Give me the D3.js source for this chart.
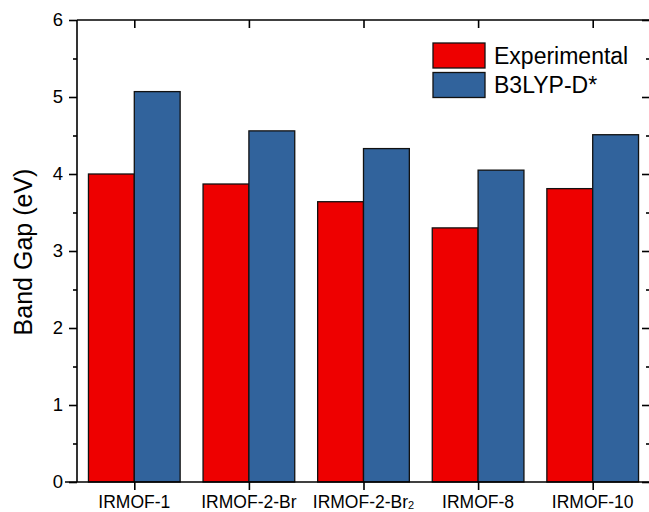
<!DOCTYPE html>
<html>
<head>
<meta charset="utf-8">
<script src="https://cdn.jsdelivr.net/npm/d3@7"></script>
<style>
  html, body { margin: 0; padding: 0; background: #fff; }
  svg { display: block; font-family: "Liberation Sans", Arial, sans-serif; }
</style>
</head>
<body>
<svg id="chart" width="649" height="512"></svg>
<script>
// Band gaps of IRMOF frameworks: experiment vs. B3LYP-D* calculation
const categories = ["IRMOF-1", "IRMOF-2-Br", "IRMOF-2-Br2", "IRMOF-8", "IRMOF-10"];
const experimental = [4.00, 3.87, 3.64, 3.30, 3.81];
const b3lypD = [5.07, 4.56, 4.33, 4.05, 4.51];
const seriesNames = ["Experimental", "B3LYP-D*"];
const yTicks = [0, 1, 2, 3, 4, 5, 6];
const yMinorTicks = [0.5, 1.5, 2.5, 3.5, 4.5, 5.5];

const colors = ["#ee0000", "#31639c"];

const svg = d3.select("#chart");
const plotL = 77, plotR = 650, plotT = 20, plotB = 482;

const x = d3.scaleLinear().domain([0.5, categories.length + 0.5]).range([plotL, plotR]);
const y = d3.scaleLinear().domain([0, 6]).range([plotB, plotT]);

const step = x(2) - x(1);
const barW = step * 0.8 / 2;

// bars
const series = [experimental, b3lypD];
series.forEach((vals, s) => {
  svg.append("g").selectAll("rect")
    .data(vals)
    .join("rect")
    .attr("x", (d, i) => x(i + 1) - barW + s * barW)
    .attr("y", d => y(d))
    .attr("width", barW)
    .attr("height", d => y(0) - y(d))
    .attr("fill", colors[s])
    .attr("stroke", "#111")
    .attr("stroke-width", 1.3);
});

// frame lines
const axisColor = "#000";
const lw = 1.6;
svg.append("line").attr("x1", plotL).attr("x2", plotR).attr("y1", plotT).attr("y2", plotT)
  .attr("stroke", axisColor).attr("stroke-width", lw);
svg.append("line").attr("x1", plotR).attr("x2", plotR).attr("y1", plotT).attr("y2", plotB)
  .attr("stroke", axisColor).attr("stroke-width", lw);

// left axis
const yAxis = d3.axisLeft(y).tickValues(yTicks).tickFormat(d3.format("d")).tickSize(8).tickPadding(6);
const gy = svg.append("g").attr("transform", `translate(${plotL},0)`).call(yAxis);
gy.select(".domain").attr("stroke-width", lw).attr("d", `M0,${plotB}V${plotT}`);
gy.selectAll(".tick line").attr("stroke-width", lw);
gy.selectAll(".tick text").attr("font-size", 18.5).attr("font-family", "Liberation Sans, Arial, sans-serif").attr("fill", "#000");
const yMinor = d3.axisLeft(y).tickValues(yMinorTicks).tickFormat("").tickSize(4);
const gym = svg.append("g").attr("transform", `translate(${plotL},0)`).call(yMinor);
gym.select(".domain").remove();
gym.selectAll(".tick line").attr("stroke-width", lw);

// right axis ticks (inward)
const yRight = d3.axisRight(y).tickValues(yTicks).tickFormat("").tickSize(-8);
const gr = svg.append("g").attr("transform", `translate(${plotR},0)`).call(yRight);
gr.select(".domain").remove();
gr.selectAll(".tick line").attr("stroke-width", lw);
const yRightMinor = d3.axisRight(y).tickValues(yMinorTicks).tickFormat("").tickSize(-4);
const grm = svg.append("g").attr("transform", `translate(${plotR},0)`).call(yRightMinor);
grm.select(".domain").remove();
grm.selectAll(".tick line").attr("stroke-width", lw);

// bottom axis
const catIdx = categories.map((c, i) => i + 1);
const xAxis = d3.axisBottom(x).tickValues(catIdx).tickFormat("").tickSize(8);
const gx = svg.append("g").attr("transform", `translate(0,${plotB})`).call(xAxis);
gx.select(".domain").attr("stroke-width", lw).attr("d", `M${plotL - 12},0H${plotR}`);
gx.selectAll(".tick line").attr("stroke-width", lw);

// top axis ticks (inward)
const xTop = d3.axisTop(x).tickValues(catIdx).tickFormat("").tickSize(-8);
const gt = svg.append("g").attr("transform", `translate(0,${plotT})`).call(xTop);
gt.select(".domain").remove();
gt.selectAll(".tick line").attr("stroke-width", lw);

// category labels (trailing "2" drawn as subscript)
const labels = svg.append("g");
categories.forEach((c, i) => {
  const t = labels.append("text")
    .attr("x", x(i + 1))
    .attr("y", 508)
    .attr("text-anchor", "middle")
    .attr("font-size", 17.5)
    .attr("fill", "#000");
  if (c.endsWith("Br2")) {
    t.append("tspan").text(c.slice(0, -1));
    t.append("tspan").attr("font-size", 11).attr("dy", 1).text("2");
  } else {
    t.text(c);
  }
});

// y axis title
svg.append("text")
  .attr("transform", `translate(32,252) rotate(-90)`)
  .attr("text-anchor", "middle")
  .attr("font-size", 25)
  .attr("fill", "#000")
  .text("Band Gap (eV)");

// legend
const legend = svg.append("g");
seriesNames.forEach((name, s) => {
  const yy = 43 + s * 29.5;
  legend.append("rect")
    .attr("x", 433).attr("y", yy)
    .attr("width", 52).attr("height", 25)
    .attr("fill", colors[s]).attr("stroke", "#111").attr("stroke-width", 1.3);
  legend.append("text")
    .attr("x", 494).attr("y", yy + 12.5).attr("dy", "0.36em")
    .attr("font-size", 23).attr("fill", "#000")
    .text(name);
});
</script>
</body>
</html>
